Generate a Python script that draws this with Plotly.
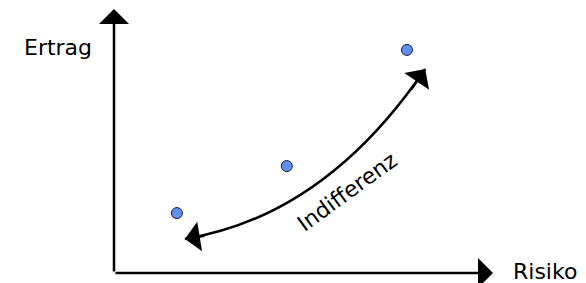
import plotly.graph_objects as go

# Data (in axis units: Risiko 0..10, Ertrag 0..10)
risiko = [1.66, 4.56, 7.73]
ertrag = [2.27, 4.05, 8.45]

# Indifference curve (quadratic Bezier: start tip, control, end tip)
curve_start = (1.87, 1.29)
curve_ctrl = (5.57, 2.16)
curve_end = (8.21, 7.73)

x_label = "Risiko"
y_label = "Ertrag"
curve_label = "Indifferenz"

FONT = "DejaVu Sans"

fig = go.Figure()
fig.add_trace(go.Scatter(
    x=risiko, y=ertrag, mode="markers",
    marker=dict(size=11, color="#6090F0", line=dict(color="#1b1b3a", width=1)),
    hoverinfo="skip", showlegend=False, cliponaxis=False,
))

# curve
fig.add_shape(
    type="path", xref="x", yref="y",
    path=f"M {curve_start[0]} {curve_start[1]} Q {curve_ctrl[0]} {curve_ctrl[1]} {curve_end[0]} {curve_end[1]}",
    line=dict(color="black", width=2.5),
)

def tangent_back(tip, ctrl, frac=0.15):
    return (tip[0] + (ctrl[0] - tip[0]) * frac, tip[1] + (ctrl[1] - tip[1]) * frac)

HEAD = 2.0
ann = []
# axes
ann.append(dict(x=10, y=0, ax=0, ay=0, xref="x", yref="y", axref="x", ayref="y",
                text="", showarrow=True, arrowhead=1, arrowsize=HEAD, arrowwidth=2.5,
                arrowcolor="black"))
ann.append(dict(x=0, y=10, ax=0, ay=0, xref="x", yref="y", axref="x", ayref="y",
                text="", showarrow=True, arrowhead=1, arrowsize=HEAD, arrowwidth=2.5,
                arrowcolor="black"))
# curve arrow heads
for tip in (curve_start, curve_end):
    b = tangent_back(tip, curve_ctrl)
    ann.append(dict(x=tip[0], y=tip[1], ax=b[0], ay=b[1], xref="x", yref="y",
                    axref="x", ayref="y", text="", showarrow=True, arrowhead=1,
                    arrowsize=HEAD, arrowwidth=2.5, arrowcolor="black"))

ann.append(dict(x=-0.148, y=0.856, xref="paper", yref="paper", text=y_label, showarrow=False,
                xanchor="center", yanchor="middle",
                font=dict(family=FONT, size=22, color="black")))
ann.append(dict(x=1.0475, y=0.004, xref="paper", yref="paper", text=x_label, showarrow=False,
                xanchor="left", yanchor="middle",
                font=dict(family=FONT, size=22, color="black")))
ann.append(dict(x=6.17, y=3.07, xref="x", yref="y", text=curve_label, showarrow=False,
                xanchor="center", yanchor="middle",
                textangle=-36, font=dict(family=FONT, size=22, color="black")))

fig.update_layout(
    width=578, height=275,
    margin=dict(l=106, r=93, t=1, b=10),
    plot_bgcolor="white", paper_bgcolor="white",
    xaxis=dict(range=[0, 10], visible=False, fixedrange=True),
    yaxis=dict(range=[0, 10], visible=False, fixedrange=True),
    annotations=ann,
    showlegend=False,
)

fig.write_html("out.html")
